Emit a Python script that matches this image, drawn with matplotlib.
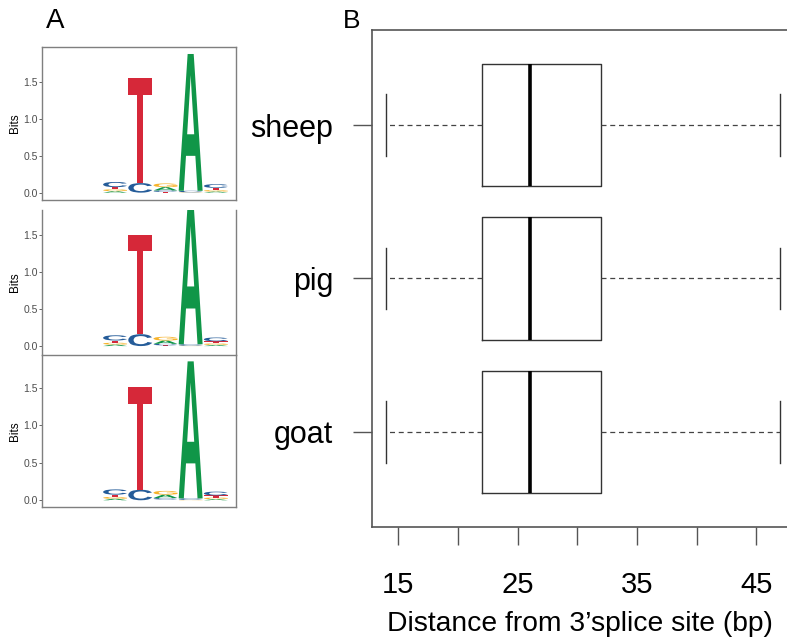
import numpy as np
import matplotlib.pyplot as plt
from matplotlib.textpath import TextPath
from matplotlib.patches import PathPatch
from matplotlib.font_manager import FontProperties
from matplotlib.transforms import Affine2D

plt.rcParams['font.family'] = ['Liberation Sans', 'DejaVu Sans']

# =========================================================
# Data
# =========================================================

# panel B: distance of branch point from 3' splice site
species = ["goat", "pig", "sheep"]
whisker_low = [14, 14, 14]
q1 = [22, 22, 22]
medians = [26, 26, 26]
q3 = [32, 32, 32]
whisker_high = [47, 47, 47]

x_ticks = [15, 20, 25, 30, 35, 40, 45]
x_tick_labels = ["15", "", "25", "", "35", "", "45"]

# panel A: sequence logos (bits per letter, positions 3..7)
logo_positions = [3, 4, 5, 6, 7]
bits_tick_values = [0.0, 0.5, 1.0, 1.5]

logo1_A = [0.02, 0.00, 0.045, 1.86, 0.015]
logo1_C = [0.07, 0.13, 0.02, 0.02, 0.05]
logo1_G = [0.025, 0.00, 0.05, 0.005, 0.02]
logo1_T = [0.03, 1.43, 0.01, 0.00, 0.03]

logo2_A = [0.02, 0.00, 0.045, 1.88, 0.015]
logo2_C = [0.07, 0.16, 0.02, 0.02, 0.05]
logo2_G = [0.025, 0.00, 0.05, 0.005, 0.02]
logo2_T = [0.03, 1.33, 0.01, 0.00, 0.03]

logo3_A = [0.02, 0.00, 0.045, 1.83, 0.015]
logo3_C = [0.07, 0.14, 0.02, 0.02, 0.05]
logo3_G = [0.025, 0.00, 0.05, 0.005, 0.02]
logo3_T = [0.03, 1.37, 0.01, 0.00, 0.03]

logos = [
    (logo1_A, logo1_C, logo1_G, logo1_T),
    (logo2_A, logo2_C, logo2_G, logo2_T),
    (logo3_A, logo3_C, logo3_G, logo3_T),
]

letter_colors = {"A": "#109648", "C": "#255C99", "G": "#F7B32B", "T": "#D62839"}

# =========================================================
# Helpers
# =========================================================

letter_font = FontProperties(family="Liberation Sans", weight="bold")


def draw_letter(ax, letter, x, y0, height, width=0.95):
    if height <= 0:
        return
    path = TextPath((0, 0), letter, size=1, prop=letter_font)
    ext = path.get_extents()
    tr = (Affine2D()
          .translate(-ext.x0, -ext.y0)
          .scale(width / ext.width, height / ext.height)
          .translate(x - width / 2, y0))
    patch = PathPatch(tr.transform_path(path), facecolor=letter_colors[letter],
                      edgecolor="none", lw=0)
    ax.add_patch(patch)


def draw_logo(ax, heights):
    letters = ["A", "C", "G", "T"]
    for i, pos in enumerate(logo_positions):
        col = sorted([(heights[k][i], letters[k]) for k in range(4)])
        y = 0.0
        for h, let in col:
            draw_letter(ax, let, pos, y, h)
            y += h


# =========================================================
# Figure
# =========================================================

fig = plt.figure(figsize=(7.87, 6.41), dpi=100)

logo_boxes = [
    [42 / 787, 1 - 200 / 641, 194 / 787, 153 / 641],
    [42 / 787, 1 - 355 / 641, 194 / 787, 145 / 641],
    [42 / 787, 1 - 507 / 641, 194 / 787, 152 / 641],
]
logo_ylims = [(-0.10, 1.98), (-0.12, 1.83), (-0.09, 1.94)]

for k in range(3):
    ax = fig.add_axes(logo_boxes[k])
    draw_logo(ax, logos[k])
    ax.set_xlim(0.1, 7.8)
    ax.set_ylim(*logo_ylims[k])
    ax.set_xticks([])
    ax.set_yticks(bits_tick_values)
    ax.set_yticklabels(["0.0", "0.5", "1.0", "1.5"])
    ax.tick_params(axis="y", labelsize=7.5, colors="#4d4d4d", length=2, width=0.6, pad=1)
    ax.set_ylabel("Bits", fontsize=8.5, labelpad=2)
    for s in ax.spines.values():
        s.set_color("#7f7f7f")
        s.set_linewidth(1.0)
    if k == 1:
        ax.spines["top"].set_visible(False)
        ax.spines["bottom"].set_visible(False)

# panel B boxplot
axb = fig.add_axes([372 / 787, 1 - 527 / 641, 1 - 372 / 787, 497 / 641])

stats = []
for i in range(len(species)):
    stats.append({
        "whislo": whisker_low[i],
        "q1": q1[i],
        "med": medians[i],
        "q3": q3[i],
        "whishi": whisker_high[i],
        "fliers": [],
    })

axb.bxp(stats, positions=[1, 2, 3], widths=0.8, orientation="horizontal",
        showfliers=False,
        boxprops=dict(color="#333333", linewidth=1.0),
        medianprops=dict(color="black", linewidth=2.6),
        whiskerprops=dict(color="#444444", linewidth=0.9, linestyle=(0, (4, 3))),
        capprops=dict(color="#333333", linewidth=1.0))

axb.set_xlim(12.8, 47.58)
axb.set_ylim(0.38, 3.62)
axb.set_yticks([1, 2, 3])
axb.set_yticklabels(species)
axb.set_xticks(x_ticks)
axb.set_xticklabels(x_tick_labels)
axb.tick_params(axis="y", labelsize=22, length=14, width=1.0, color="#555555", pad=14)
axb.tick_params(axis="x", labelsize=21, length=13, width=1.0, color="#555555", pad=19)
axb.set_xlabel("Distance from 3\u2019splice site (bp)", fontsize=20.3, labelpad=8)
axb.spines["right"].set_visible(False)
for s in ["left", "top", "bottom"]:
    axb.spines[s].set_color("#555555")
    axb.spines[s].set_linewidth(1.2)

fig.text(46 / 787, 1 - 28 / 641, "A", fontsize=20)
fig.text(343 / 787, 1 - 28 / 641, "B", fontsize=19)

fig.savefig("out.png", dpi=100)
